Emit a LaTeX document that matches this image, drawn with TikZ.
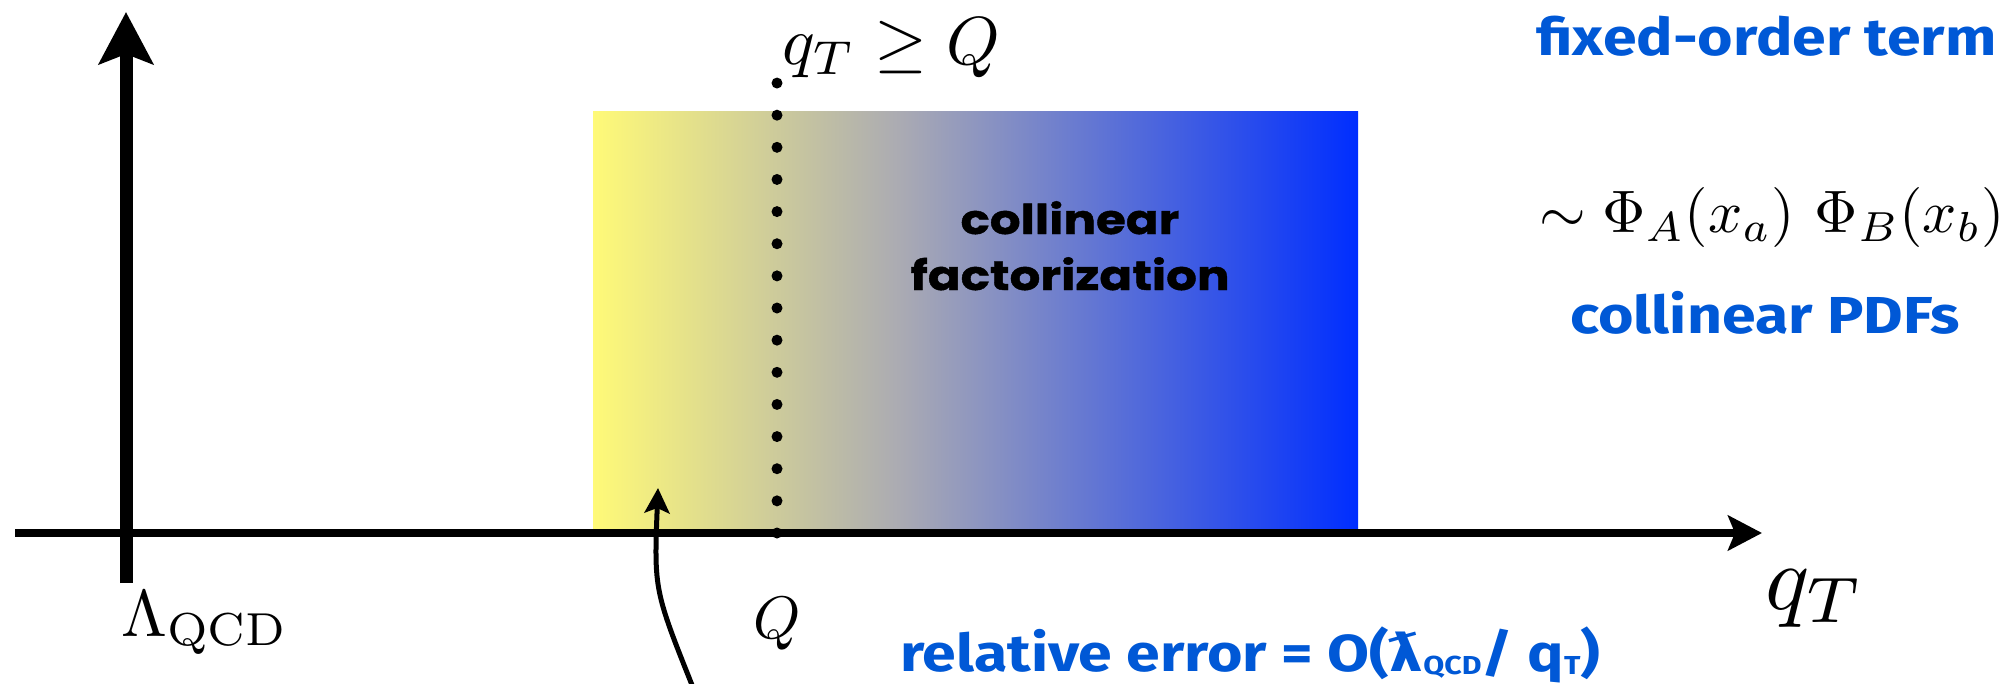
\documentclass[tikz,border=0pt]{standalone}
\usepackage{fontspec}
\usetikzlibrary{arrows.meta}
\newfontfamily\bluefamily[FakeStretch=1.17]{Fira Sans}
\newfontfamily\blackfamily[FakeStretch=1.18,FakeBold=1]{Poppins}
\newfontfamily\lamfamily[FakeStretch=1.1]{DejaVu Sans}
\definecolor{txtblue}{RGB}{0,88,214}
\pgfdeclarehorizontalshading{ybshade}{100bp}{rgb(0bp)=(1,0.98,0.47); rgb(25bp)=(1,0.98,0.47); rgb(45bp)=(0.67,0.67,0.70); rgb(75bp)=(0,0.18,1); rgb(100bp)=(0,0.18,1)}
\tikzset{
  bluetxt/.style={inner sep=0pt, text=txtblue, font=\bluefamily\bfseries\fontsize{52}{56}\selectfont},
  blacktxt/.style={inner sep=0pt, text=black, font=\blackfamily\bfseries\fontsize{41}{44}\selectfont},
  mathtxt/.style={inner sep=0pt},
}
\begin{document}
\begin{tikzpicture}[x=1pt,y=-1pt]
\useasboundingbox (0,0) rectangle (2015,683);
\clip (0,0) rectangle (2015,683);
% shaded region
\path[shading=ybshade] (593,111) rectangle (1358,533);
% dotted line
\coordinate (dotbot) at (777,533);
\coordinate (dottop) at (777,83);
\draw[line width=11pt, line cap=round, dash pattern=on 0pt off 32.14pt] (dotbot) -- (dottop);
% axes
\coordinate (hstart) at (15,533);
\coordinate (hend) at (1762,533);
\coordinate (vstart) at (126,583);
\coordinate (vend) at (126,12);
\draw[line width=8pt, -{Stealth[length=34pt,width=35pt,inset=7pt]}] (hstart) -- (hend);
\draw[line width=13pt, -{Stealth[length=52pt,width=54pt,inset=10pt]}] (vstart) -- (vend);
% curved arrow
\coordinate (errsrc) at (694,690);
\coordinate (errtip) at (658,488);
\draw[line width=5pt, -{Stealth[length=25pt,width=25pt,inset=5pt]}] (errsrc) .. controls (654,590) .. (errtip);
% labels
\node[mathtxt, scale=6.8, anchor=base west] (qtq) at (781,64) {$q_T \geq Q$};
\node[mathtxt, scale=6.0, anchor=base] (Qlab) at (777,638) {$Q$};
\node[mathtxt, scale=6.6, anchor=base west] (lqcd) at (120,636) {$\Lambda_{\mathrm{QCD}}$};
\node[mathtxt, scale=9.2, anchor=base west] (qtax) at (1764,609) {$q_T$};
\node[mathtxt, scale=6.0, anchor=base west] (pdfmath) at (1538,232) {$\sim \Phi_A(x_a)\ \Phi_B(x_b)$};
\node[bluetxt, anchor=base west] (fot) at (1536,55) {fixed-order term};
\node[bluetxt, anchor=base west] (cpdf) at (1570,333) {collinear PDFs};
\node[blacktxt, anchor=base] (cf1) at (1070,234) {collinear};
\node[blacktxt, anchor=base] (cf2) at (1070,290) {factorization};
\node[bluetxt, anchor=base west] (relerr) at (900,671) {relative error = O({\lamfamily ƛ}\raisebox{-3pt}{\fontsize{26}{26}\selectfont QCD}/ q\raisebox{-3pt}{\fontsize{26}{26}\selectfont T})};
\end{tikzpicture}
\end{document}
